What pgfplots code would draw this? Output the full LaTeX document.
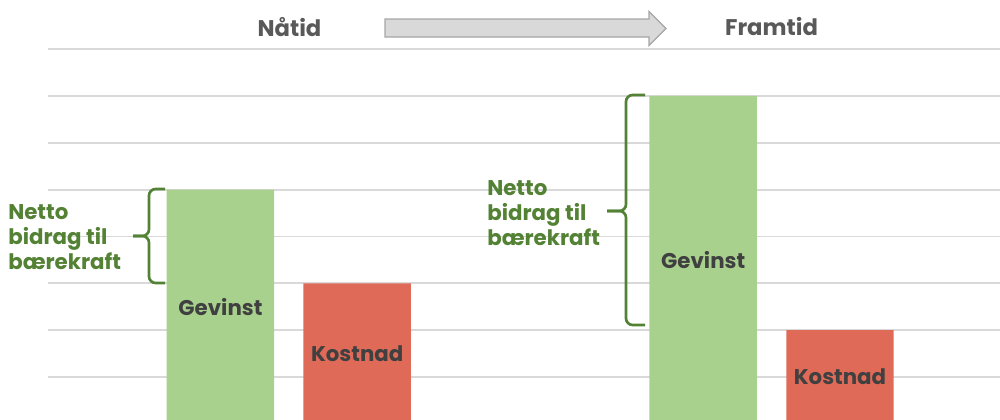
\documentclass[border=0pt]{standalone}
\usepackage{pgfplots}
\pgfplotsset{compat=1.18}
\usepackage{fontspec}
\setmainfont{Poppins}
\definecolor{gbar}{HTML}{A9D18E}
\definecolor{rbar}{HTML}{E06A58}
\definecolor{dgreen}{HTML}{548235}
\definecolor{hdr}{HTML}{595959}
\definecolor{lbl}{HTML}{404040}
\definecolor{gridc}{HTML}{D9D9D9}
\definecolor{arrfill}{HTML}{D9D9D9}
\definecolor{arrline}{HTML}{A6A6A6}
\begin{document}
\begin{tikzpicture}
\path[use as bounding box] (0,0) rectangle (750pt,314.25pt);
\begin{axis}[at={(36pt,-3.675pt)}, anchor=south west, scale only axis,
  width=714pt, height=281.2pt,
  xmin=-0.261, xmax=6.70, ymin=0, ymax=8,
  ytick={1,...,8}, yticklabels={}, xtick=\empty,
  ymajorgrids, grid style={line width=1.4pt, color=gridc},
  axis line style={draw=none}, major tick length=0pt, clip=false,
  ybar, bar width=80.6pt, bar shift=0pt]
\addplot[fill=gbar, draw=none] coordinates {(1,5) (4.53,7)};
\addplot[fill=rbar, draw=none] coordinates {(2,3) (5.53,2)};
\node[lbl, font=\fontsize{16}{18.75}\selectfont\bfseries] at (axis cs:1,2.5) {Gevinst};
\node[lbl, font=\fontsize{16}{18.75}\selectfont\bfseries] at (axis cs:2,1.5) {Kostnad};
\node[lbl, font=\fontsize{16}{18.75}\selectfont\bfseries] at (axis cs:4.53,3.5) {Gevinst};
\node[lbl, font=\fontsize{16}{18.75}\selectfont\bfseries] at (axis cs:5.53,1.0) {Kostnad};
\end{axis}
\begin{scope}[x=0.75pt, y=0.75pt]
% headers
\node[hdr, font=\fontsize{17}{20}\selectfont\bfseries] at (289.5, 392) {Nåtid};
\node[hdr, font=\fontsize{17}{20}\selectfont\bfseries] at (771.5, 392) {Framtid};
% arrow
\draw[fill=arrfill, draw=arrline, line width=0.9pt, line join=miter]
  (385,400) -- (649,400) -- (649,407.5) -- (666,390.5) -- (649,373.5) -- (649,382) -- (385,382) -- cycle;
% brace 1
\draw[dgreen, line width=2pt, rounded corners=5pt] (165,230) -- (149,230) -- (149,183) -- (133,183);
\draw[dgreen, line width=2pt, rounded corners=5pt] (165,136) -- (149,136) -- (149,183) -- (133,183);
% brace 2
\draw[dgreen, line width=2pt, rounded corners=5pt] (645,324) -- (626,324) -- (626,208) -- (607,208);
\draw[dgreen, line width=2pt, rounded corners=5pt] (645,94) -- (626,94) -- (626,208) -- (607,208);
% net labels
\node[dgreen, anchor=west, align=left, inner sep=0pt, font=\fontsize{16}{18.75}\selectfont\bfseries] at (8,182) {Netto\\bidrag til\\bærekraft};
\node[dgreen, anchor=west, align=left, inner sep=0pt, font=\fontsize{16}{18.75}\selectfont\bfseries] at (487,206) {Netto\\bidrag til\\bærekraft};
\end{scope}
\end{tikzpicture}
\end{document}
